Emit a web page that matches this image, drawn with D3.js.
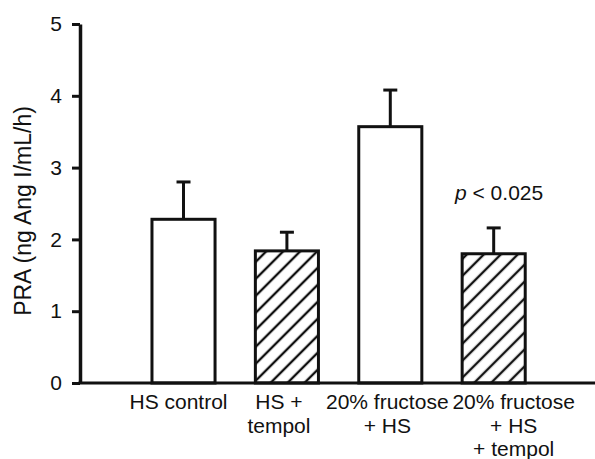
<!DOCTYPE html>
<html>
<head>
<meta charset="utf-8">
<script src="https://cdn.jsdelivr.net/npm/d3@7"></script>
<style>
  body { margin: 0; background: #fff; }
  text { font-family: "Liberation Sans", Arial, sans-serif; fill: #111; }
</style>
</head>
<body>
<svg id="chart" width="595" height="459"></svg>
<script>
// data
const categories = ["HS control", "HS + tempol", "20% fructose + HS", "20% fructose + HS + tempol"];
const labelLines = [["HS control"], ["HS +", "tempol"], ["20% fructose", "+ HS"], ["20% fructose", "+ HS", "+ tempol"]];
const praMean = [2.28, 1.84, 3.57, 1.80];
const praSem = [0.52, 0.26, 0.51, 0.36];
const tempol = [false, true, false, true];
const yTicks = [0, 1, 2, 3, 4, 5];

const svg = d3.select("#chart");

// layout
const xAxisStart = 80, xAxisEnd = 595;
const yTop = 24, yBottom = 383;
const labelShift = [-5, -8, -3, 20]; // labels sit a bit off the bar centres

const xScale = d3.scaleBand()
  .domain(categories)
  .range([131.3, 545.9])
  .paddingInner(0.39)
  .paddingOuter(0.2);

const yScale = d3.scaleLinear()
  .domain([0, 5])
  .range([yBottom, yTop]);

// hatch pattern "/"
const defs = svg.append("defs");
defs.append("pattern")
  .attr("id", "hatch")
  .attr("patternUnits", "userSpaceOnUse")
  .attr("width", 12)
  .attr("height", 12)
  .attr("patternTransform", "rotate(-45)")
  .append("line")
    .attr("x1", -1).attr("x2", 13)
    .attr("y1", 6).attr("y2", 6)
    .attr("stroke", "#111")
    .attr("stroke-width", 2.4);

const rows = categories.map((c, i) => ({ cat: c, mean: praMean[i], sem: praSem[i], tempol: tempol[i], lines: labelLines[i], shift: labelShift[i] }));

// error bars (upper only)
const err = svg.append("g").attr("class", "errors");
err.selectAll("line.stem")
  .data(rows)
  .join("line")
    .attr("class", "stem")
    .attr("x1", d => xScale(d.cat) + xScale.bandwidth() / 2)
    .attr("x2", d => xScale(d.cat) + xScale.bandwidth() / 2)
    .attr("y1", d => yScale(d.mean))
    .attr("y2", d => yScale(d.mean + d.sem))
    .attr("stroke", "#111")
    .attr("stroke-width", 3);
err.selectAll("line.cap")
  .data(rows)
  .join("line")
    .attr("class", "cap")
    .attr("x1", d => xScale(d.cat) + xScale.bandwidth() / 2 - 7)
    .attr("x2", d => xScale(d.cat) + xScale.bandwidth() / 2 + 7)
    .attr("y1", d => yScale(d.mean + d.sem))
    .attr("y2", d => yScale(d.mean + d.sem))
    .attr("stroke", "#111")
    .attr("stroke-width", 3);

// bars
svg.append("g").attr("class", "bars")
  .selectAll("rect")
  .data(rows)
  .join("rect")
    .attr("x", d => xScale(d.cat))
    .attr("width", xScale.bandwidth())
    .attr("y", d => yScale(d.mean))
    .attr("height", d => yScale(0) - yScale(d.mean))
    .attr("fill", d => d.tempol ? "url(#hatch)" : "#fff")
    .attr("stroke", "#111")
    .attr("stroke-width", 3);

// y axis
const yAxis = svg.append("g")
  .attr("transform", `translate(${xAxisStart},0)`)
  .call(d3.axisLeft(yScale).tickValues(yTicks).tickFormat(d3.format("d")).tickSize(8).tickSizeOuter(0).tickPadding(10));
yAxis.select(".domain").attr("stroke", "#111").attr("stroke-width", 3.5);
yAxis.selectAll(".tick line").attr("stroke", "#111").attr("stroke-width", 3);
yAxis.selectAll(".tick text")
  .style("font-family", "'Liberation Sans', Arial, sans-serif")
  .style("font-size", "21px")
  .attr("fill", "#111");

// x axis line
svg.append("line")
  .attr("x1", xAxisStart - 1.5).attr("x2", xAxisEnd)
  .attr("y1", yBottom).attr("y2", yBottom)
  .attr("stroke", "#111")
  .attr("stroke-width", 3);

// category labels
svg.append("g").attr("class", "xlabels")
  .selectAll("text")
  .data(rows)
  .join("text")
    .attr("text-anchor", "middle")
    .attr("font-size", 21)
    .attr("y", 409)
    .each(function (d) {
      const t = d3.select(this);
      const cx = xScale(d.cat) + xScale.bandwidth() / 2 + d.shift;
      d.lines.forEach((ln, k) => {
        t.append("tspan").attr("x", cx).attr("dy", k === 0 ? 0 : 23.5).text(ln);
      });
    });

// y title
svg.append("text")
  .attr("transform", "translate(31,211) rotate(-90)")
  .attr("text-anchor", "middle")
  .attr("font-size", 23)
  .text("PRA (ng Ang I/mL/h)");

// significance note
const note = svg.append("text")
  .attr("x", 455)
  .attr("y", 200)
  .attr("font-size", 21);
note.append("tspan").attr("font-style", "italic").text("p");
note.append("tspan").text(" < 0.025");
</script>
</body>
</html>
